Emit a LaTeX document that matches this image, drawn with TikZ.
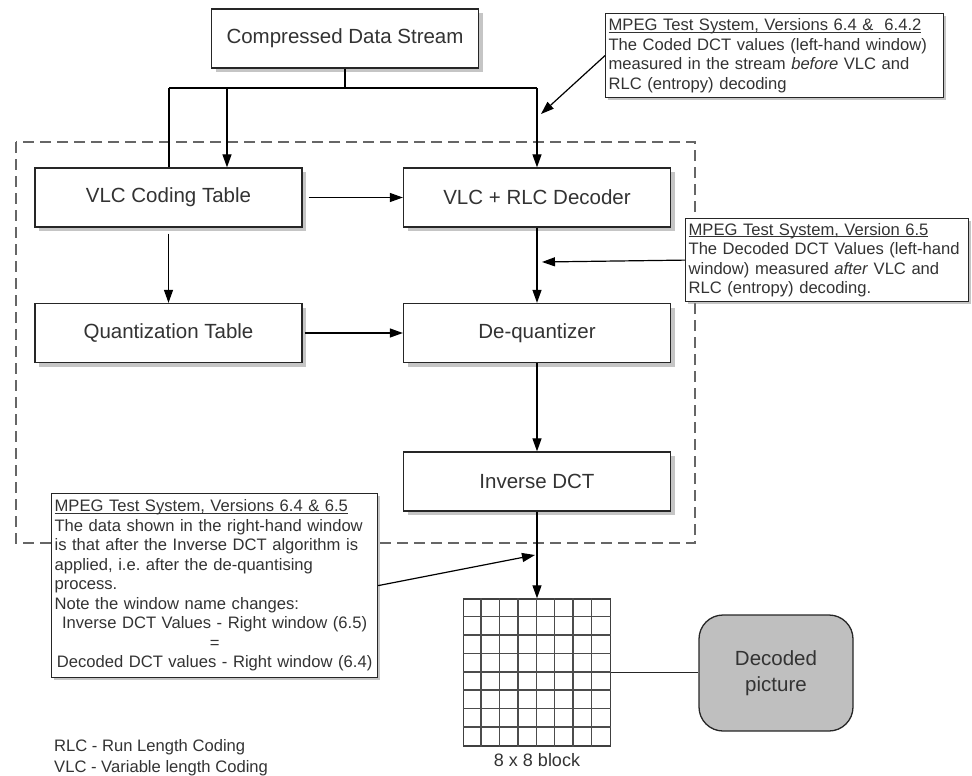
\documentclass[tikz,border=0pt]{standalone}
\usepackage{fontspec}
\setmainfont{Liberation Sans}
\usetikzlibrary{arrows.meta,shadows,calc}
\frenchspacing
\newcommand\myul[1]{\leavevmode\vtop{\hbox{#1}\kern-2.5pt\hrule height 0.8pt}}
\begin{document}
\begin{tikzpicture}[x=1pt,y=-1pt,
  blk/.style={draw=black!85, line width=1.3pt, fill=white, minimum width=267pt, minimum height=59pt, inner sep=0pt, text=black!80, font=\fontsize{20.5}{24}\selectfont, drop shadow={shadow xshift=4pt, shadow yshift=-4pt, fill=black!45, opacity=.5}},
  callout/.style={draw=black!85, line width=1.2pt, fill=white, inner sep=3pt, anchor=north west, align=left, text=black!80, font=\fontsize{16.6}{19.5}\selectfont, drop shadow={shadow xshift=2pt, shadow yshift=-2pt, fill=black!45, opacity=.5}},
  arr/.style={-{Triangle[length=13pt,width=9pt]}, line width=1.2pt, draw=black},
  conn/.style={line width=1.2pt, draw=black},
  gridl/.style={line width=1.4pt, draw=black!70},
  plain/.style={inner sep=0pt, text=black!80}
]
\useasboundingbox (0,0) rectangle (972,776);

% dashed frame
\draw[line width=1.8pt, draw=black!60, dash pattern=on 11pt off 6pt] (16,142) rectangle (695,543);

% main blocks
\node[blk] (cds) at (345,38.5) {Compressed Data Stream};
\node[blk] (vlct) at (168.5,197.5) {VLC Coding Table};
\node[blk] (dec) at (537,197.5) {VLC + RLC Decoder};
\node[blk] (qt) at (168.5,333) {Quantization Table};
\node[blk] (deq) at (537,333) {De-quantizer};
\node[blk] (idct) at (537,481.5) {Inverse DCT};

% branching from the stream
\coordinate (jl) at (169,88);
\coordinate (jm) at (227,88);
\coordinate (jr) at (537,88);
\draw[conn] (cds.south) |- (jl);
\draw[conn] (jl) -- (jr);
\draw[conn] (jl) -- (jl |- vlct.north);
\draw[arr] (jm) -- (jm |- vlct.north);
\draw[arr] (jr) -- (dec.north);

% flow
\draw[arr] ([xshift=6pt]vlct.east) -- (dec.west);
\draw[arr] ([yshift=-6pt]vlct.south) -- (qt.north);
\draw[arr] ([xshift=2pt]qt.east) -- (deq.west);
\draw[arr] (dec.south) -- (deq.north);
\draw[arr] (deq.south) -- (idct.north);

% 8x8 block
\node[draw=black!75, line width=1.4pt, fill=white, minimum size=147pt, inner sep=0pt] (blk8) at (537,672.5) {};
\foreach \i in {1,...,7} {
  \draw[gridl] ($(blk8.north west)+(\i*18.375,0)$) -- ($(blk8.south west)+(\i*18.375,0)$);
  \draw[gridl] ($(blk8.north west)+(0,\i*18.375)$) -- ($(blk8.north east)+(0,\i*18.375)$);
}
\draw[arr] (idct.south) -- (blk8.north);
\node[plain, font=\fontsize{18}{21}\selectfont] (lbl) at (537,760) {8 x 8 block};

% decoded picture
\node[draw=black!85, line width=1.3pt, fill=black!25, rounded corners=24pt, minimum width=154pt, minimum height=116pt, align=center, text=black!80, font=\fontsize{20.5}{26}\selectfont] (pic) at (776,673) {Decoded\\picture};
\draw[conn, draw=black!85] (blk8.east) -- (blk8.east -| pic.west);

% callouts
\node[callout, text width=332pt, minimum height=84pt] (c1) at (605,13) {\myul{MPEG Test System, Versions 6.4 \&\ \ 6.4.2}\\The Coded DCT values (left-hand window)\\measured in the stream \textit{before} VLC and\\RLC (entropy) decoding};
\node[callout, text width=277pt, minimum height=83pt] (c2) at (685,218) {\myul{MPEG Test System, Version 6.5}\\The Decoded DCT Values (left-hand\\window) measured \textit{after} VLC and\\RLC (entropy) decoding.};
\node[callout, text width=320pt, minimum height=184pt] (c3) at (51,493) {{\raggedright\myul{MPEG Test System, Versions 6.4 \& 6.5}\\The data shown in the right-hand window\\is that after the Inverse DCT algorithm is\\applied, i.e. after the de-quantising\\process.\\Note the window name changes:\par}{\centering Inverse DCT Values - Right window (6.5)\\=\\Decoded DCT values - Right window (6.4)\par}};

\coordinate (t1) at (541,114);
\coordinate (t2) at (542,262);
\coordinate (t3) at (535,555);
\draw[arr] (c1.west) -- (t1);
\draw[arr] (c2.west) -- (t2);
\draw[arr] (c3.east) -- (t3);

% footnotes
\node[plain, anchor=west, font=\fontsize{16.6}{19.5}\selectfont] (fn1) at (54,747) {RLC - Run Length Coding};
\node[plain, anchor=west, font=\fontsize{16.6}{19.5}\selectfont] (fn2) at (54,768) {VLC - Variable length Coding};
\end{tikzpicture}
\end{document}
